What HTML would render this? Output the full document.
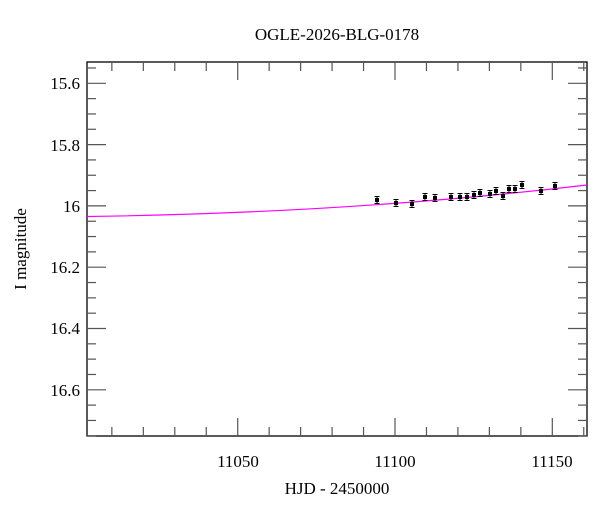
<!DOCTYPE html>
<html><head><meta charset="utf-8"><style>body{margin:0;background:#fff}svg{display:block}text{font-family:"Liberation Serif",serif;fill:#000}</style></head><body>
<svg width="600" height="512" xmlns="http://www.w3.org/2000/svg">
<text x="337" y="40" font-size="17" text-anchor="middle">OGLE-2026-BLG-0178</text>
<rect x="87" y="62" width="500" height="374" fill="none" stroke="#000" stroke-width="1.3"/>
<g id="ticks" stroke="#555" stroke-width="1.2"></g>
<path d="M87,216.5 Q350,213 587,185" stroke="#ff00ff" stroke-width="1.2" fill="none"/>
<g id="pts" fill="#000" stroke="#000" stroke-width="1"></g>
<g font-size="17" text-anchor="end">
<text x="80" y="89">15.6</text><text x="80" y="151">15.8</text><text x="80" y="212">16</text>
<text x="80" y="273">16.2</text><text x="80" y="334">16.4</text><text x="80" y="396">16.6</text>
</g>
<g font-size="17" text-anchor="middle">
<text x="238" y="467">11050</text><text x="395" y="467">11100</text><text x="552" y="467">11150</text>
<text x="337" y="494">HJD - 2450000</text>
</g>
<text transform="translate(26,249) rotate(-90)" font-size="17" text-anchor="middle">I magnitude</text>
<script>
var ns="http://www.w3.org/2000/svg",t=document.getElementById("ticks"),p=document.getElementById("pts");
function L(x1,y1,x2,y2){var l=document.createElementNS(ns,"line");l.setAttribute("x1",x1);l.setAttribute("y1",y1);l.setAttribute("x2",x2);l.setAttribute("y2",y2);t.appendChild(l);}
for(var v=11010;v<=11160;v+=10){var x=237.7+(v-11050)*3.146,len=(v%50==0)?18:9;L(x,436,x,436-len);L(x,62,x,62+len);}
for(var m=15.55;m<=16.76;m+=0.05){var y=83.3+(m-15.6)*306.5,k=Math.round(m*100)%20==0?19:9;if(y<62||y>436)continue;L(87,y,87+k,y);L(587,y,587-k,y);}
var d=[[377,200],[396,203],[412,204],[425,197],[435,198],[451,197],[460,197],[467,197],[474,195],[480,193],[490,194],[496,191],[503,196],[509,189],[515,189],[522,185],[541,191],[555,186]];
d.forEach(function(q){var c=document.createElementNS(ns,"rect");c.setAttribute("x",q[0]-2);c.setAttribute("y",q[1]-2);c.setAttribute("width",4);c.setAttribute("height",4);c.setAttribute("stroke","none");p.appendChild(c);
var e=document.createElementNS(ns,"path");e.setAttribute("d","M"+q[0]+","+(q[1]-3.5)+"V"+(q[1]+3.5)+"M"+(q[0]-2.5)+","+(q[1]-3.5)+"h5M"+(q[0]-2.5)+","+(q[1]+3.5)+"h5");p.appendChild(e);});
</script>
</svg></body></html>
